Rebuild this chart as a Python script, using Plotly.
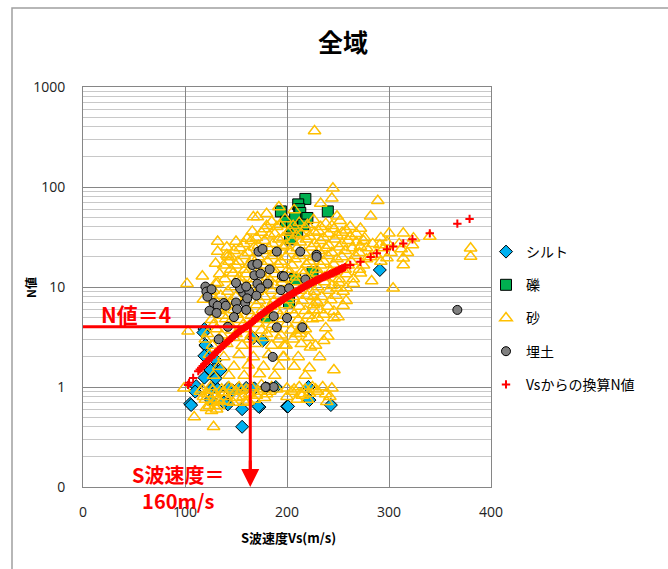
import plotly.graph_objects as go

# ---- data: S-wave velocity Vs (m/s) and SPT N value per soil type ----
silt_vs = [119, 118, 121, 120, 122, 119, 130, 129, 125, 135, 119, 130, 111, 110,
           127, 132, 142, 147, 152, 160, 168, 179, 189, 200, 221, 222, 243, 105,
           106, 142, 156, 156, 173, 172, 291, 167, 176, 138, 125, 201]
silt_n = [3.8, 3.5, 2.55, 2.63, 2.1, 2.05, 1.86, 1.5, 1.48, 1.48, 1.24, 1.22, 1.02, 0.90,
          0.97, 0.95, 0.97, 0.92, 0.96, 0.98, 0.97, 0.98, 1.0, 0.64, 1.0, 0.74, 0.66, 0.68,
          0.66, 0.67, 0.60, 0.40, 0.63, 0.64, 14.8, 3.1, 2.9, 0.70, 0.75, 0.64]

gravel_vs = [218, 211, 212, 240, 194, 213, 220, 199, 208, 205, 216, 210, 203, 208, 202, 225, 180]
gravel_n = [76, 67, 60, 57, 57, 55, 49, 45, 49, 40, 42, 36, 30, 12, 7, 14, 5]

sand_vs = [
    # upper outliers and edges
    227, 245, 244, 289, 233, 192, 207, 180, 171, 167, 249, 282, 262, 272, 300, 314,
    324, 340, 166, 161, 150, 132, 132, 142, 141, 380, 380, 314, 314, 130, 143, 117,
    102, 130, 103, 272, 291, 323, 304, 249, 226, 230, 226, 230, 246, 238, 223, 213,
    213, 197, 197, 207, 246, 244, 222, 200, 212, 239, 125, 118, 135,
    # dense body
    185, 198, 212, 226, 238, 252,
    180, 193, 206, 220, 233, 244,
    178, 190, 203, 218, 231, 246, 258,
    175, 188, 201, 214, 227, 241, 254, 268,
    170, 183, 196, 209, 222, 236, 249, 262, 276,
    165, 178, 192, 205, 219, 233, 247, 260, 275, 292,
    158, 172, 186, 199, 213, 227, 241, 254, 268, 284, 298, 310,
    141, 154, 168, 182, 196, 210, 224, 238, 251, 264, 278, 295, 312,
    148, 162, 176, 189, 203, 217, 231, 244, 257, 271, 287, 302, 318,
    145, 158, 172, 185, 199, 212, 226, 240, 254, 267, 282, 298,
    152, 166, 181, 194, 208, 222, 236, 249, 263, 278, 292,
    138, 150, 163, 177, 191, 205, 219, 233, 246, 260, 275,
    145, 159, 173, 187, 201, 215, 229, 243, 257, 271,
    134, 147, 160, 174, 188, 202, 216, 230, 244, 258, 272,
    139, 153, 167, 181, 195, 209, 223, 237, 251, 265, 283,
    132, 153, 167, 181, 195, 209, 223, 237, 251, 265,
    146, 160, 174, 188, 202, 216, 230, 244, 258,
    128, 142, 157, 171, 185, 199, 213, 227, 241, 255,
    135, 150, 164, 178, 192, 206, 220, 234, 248,
    130, 145, 159, 173, 187, 201, 215, 229, 243, 258,
    142, 156, 170, 184, 198, 212, 226, 240, 255,
    133, 148, 162, 176, 190, 204, 218, 232, 246,
    137, 151, 165, 179, 193, 207, 221, 236, 250,
    126, 140, 154, 168, 182, 196, 211, 225,
    128, 143, 157, 172, 186, 200, 215,
    131, 146, 160, 175, 189, 204, 218,
    122, 136, 150, 165, 180, 194, 209, 240,
    120, 134, 148, 163, 177, 192, 206, 221, 236,
    127, 141, 156, 170, 185, 199, 214, 228,
    124, 138, 153, 167, 182, 196, 211, 232,
    133, 148, 162, 177, 192, 222,
    128, 143, 158, 173, 188, 218,
    # low band
    99, 109, 128, 115, 120, 125, 128, 130, 133, 136, 140, 143, 147, 150, 153, 157,
    160, 165, 168, 172, 175, 180, 185, 190, 205, 210, 218, 225, 230, 235, 124, 131,
    118, 138, 162, 178, 215, 242,
    117, 122, 127, 132, 137, 142, 146, 151, 155, 159, 163, 170, 177, 183, 200, 207,
    213, 220, 228, 238, 121, 126, 134,
]
sand_n = [
    363, 97, 77, 73, 68.5, 63, 59, 54, 50, 50, 51, 51, 40, 38.5, 34.4, 34.4,
    30.8, 32, 36, 30.6, 28.5, 28.5, 22.6, 20.2, 21, 24.4, 20.2, 19.4, 16.6, 17.2, 18, 12.8,
    10.8, 10.8, 3.6, 25.4, 26.3, 26.3, 9.7, 9.7, 8.0, 6.9, 5.9, 4.9, 4.9, 3.9, 2.5, 3.4,
    3.7, 2.6, 2.0, 1.6, 1.48, 0.97, 0.86, 0.97, 1.0, 0.71, 9.0, 7.5, 6.0,
    45, 48, 44, 47, 43, 46,
    41, 42, 41, 42, 40, 41,
    38, 40, 37, 39, 36, 38, 37,
    35, 34, 35, 34, 35, 34, 35, 34,
    31, 33, 31, 33, 32, 31, 33, 32, 31,
    29, 29, 30, 29, 30, 29, 30, 29, 29, 31,
    27, 26, 27, 26, 28, 27, 26, 27, 28, 27, 28, 27,
    25, 24.5, 25, 24.5, 25, 24.5, 25, 24.5, 25, 24.5, 24.5, 24.5, 24,
    23, 22, 23, 22, 23, 22, 23, 22, 23, 22, 21, 22, 22,
    20, 20.5, 20, 20.5, 20, 20.5, 20, 20.5, 20, 20.5, 20, 19.5,
    18, 19, 18, 18, 19, 18, 18, 19, 18, 19, 18,
    16.5, 16.5, 16.8, 16.5, 16.8, 16.5, 16.8, 16.5, 16.8, 16.5, 16.5,
    15, 15, 14.5, 15, 15, 14.5, 15, 14.5, 15, 15,
    13.5, 13.7, 13.5, 13.7, 13.5, 13.7, 13.5, 13.7, 13.5, 13.5, 13.7,
    12, 12.5, 12, 12.5, 12, 12.5, 12, 12.5, 12, 12, 11.5,
    11, 11.2, 11, 11.2, 11, 11.2, 11, 11.2, 11, 10.8,
    10, 10.3, 10, 10.3, 10, 10.2, 10, 10.3, 9.8,
    9.2, 9, 9.2, 9, 9.2, 9, 9.2, 9, 9.2, 9,
    8.2, 8, 8.3, 8, 8.2, 8, 8.2, 8, 8.2,
    7.3, 7.2, 7.4, 7.3, 7.2, 7.4, 7.3, 7.2, 7.4, 7.3,
    6.6, 6.4, 6.6, 6.4, 6.6, 6.4, 6.6, 6.4, 6.5,
    5.8, 5.9, 5.8, 5.9, 5.8, 5.9, 5.8, 5.9, 5.7,
    5.2, 5.3, 5.2, 5.3, 5.2, 5.3, 5.2, 5.3, 5.0,
    4.7, 4.8, 4.7, 4.8, 4.7, 4.8, 4.7, 4.8,
    4.2, 4.3, 4.2, 4.3, 4.2, 4.3, 4.2,
    3.8, 3.7, 3.8, 3.7, 3.8, 3.7, 3.8,
    3.4, 3.3, 3.4, 3.3, 3.4, 3.3, 3.4, 3.2,
    3.0, 3.0, 3.1, 3.0, 3.1, 3.0, 3.0, 3.1, 2.9,
    2.6, 2.7, 2.6, 2.7, 2.6, 2.6, 2.7, 2.6,
    2.1, 2.0, 2.1, 2.0, 2.1, 2.0, 2.0, 2.0,
    1.6, 1.6, 1.65, 1.6, 1.6, 1.55,
    1.3, 1.3, 1.3, 1.35, 1.3, 1.3,
    0.97, 0.50, 0.40, 0.90, 0.75, 1.0, 0.70, 0.85, 0.65, 0.95, 0.80, 1.0, 0.70, 0.90, 1.0, 0.80,
    0.95, 1.0, 0.75, 0.90, 1.05, 0.85, 1.0, 0.95, 0.90, 0.75, 0.95, 1.0, 0.90, 1.0, 0.65, 0.60,
    0.80, 0.88, 0.72, 0.78, 0.82, 0.80,
    0.95, 0.85, 0.92, 0.75, 0.88, 0.72, 0.95, 0.78, 0.92, 0.70, 0.85, 0.82, 0.95, 0.90, 0.80, 0.95,
    0.85, 0.75, 0.95, 0.85, 0.62, 0.58, 0.72,
]

fill_vs = [120, 121, 122, 128, 124, 138, 150, 151, 148, 159, 157, 163, 154, 160, 166, 168,
           174, 171, 181, 172, 190, 213, 195, 218, 194, 200, 190, 215, 186, 133, 142, 180,
           187, 229, 176, 171, 174, 161, 187, 202, 197, 229, 367, 132, 140, 160, 170, 183,
           150, 126, 131, 179]
fill_n = [10.1, 9.0, 8.0, 6.9, 5.8, 6.9, 7.0, 6.0, 5.0, 6.9, 8.8, 9.0, 9.7, 10.1, 16.6, 13.1,
          13.6, 10.8, 10.8, 22.6, 22.6, 22.6, 12.9, 11.9, 9.3, 4.9, 3.95, 3.95, 2.0, 3.0, 4.0, 1.0,
          1.0, 21.0, 24.0, 17.0, 9.7, 7.7, 5.1, 9.7, 12.8, 20.0, 5.9, 6.5, 6.5, 5.9, 8.2, 15.0,
          11.0, 9.5, 5.5, 1.0]

conv_vs = [103, 104, 108, 113, 116, 119, 122, 125, 128, 131, 134, 137, 140, 143, 146, 149,
           152, 155, 158, 161, 164, 167, 170, 173, 176, 179, 182, 185, 188, 191, 194, 197,
           200, 203, 206, 209, 212, 215, 218, 221, 224, 227, 230, 233, 236, 239, 242, 245,
           248, 251, 254, 257, 262, 272, 282, 288, 298, 304, 314, 323, 340, 367, 379,
           114.5, 117.5, 120.5, 123.5, 126.5, 129.5, 132.5, 135.5, 138.5, 141.5, 144.5, 147.5,
           150.5, 153.5, 156.5, 159.5, 162.5, 165.5, 168.5, 171.5, 174.5, 177.5, 180.5, 183.5,
           186.5, 189.5, 192.5, 195.5, 198.5, 201.5, 204.5, 207.5, 210.5, 213.5, 216.5, 219.5,
           222.5, 225.5, 228.5, 231.5, 234.5, 237.5, 240.5, 243.5, 246.5, 249.5, 252.5, 255.5]
conv_n = [1.05, 1.10, 1.23, 1.44, 1.56, 1.69, 1.82, 1.95, 2.10, 2.25, 2.41, 2.57, 2.74, 2.92, 3.11, 3.31,
          3.51, 3.72, 3.90, 4.08, 4.28, 4.55, 4.85, 5.12, 5.40, 5.70, 6.00, 6.30, 6.62, 6.95, 7.28, 7.62,
          7.95, 8.30, 8.65, 9.00, 9.40, 9.80, 10.2, 10.6, 11.0, 11.4, 11.8, 12.2, 12.6, 13.0, 13.4, 13.8,
          14.3, 14.8, 15.3, 15.8, 16.6, 17.9, 20.0, 21.7, 23.8, 25.4, 27.3, 30.0, 34.4, 43.0, 48.0,
          1.50, 1.62, 1.75, 1.88, 2.02, 2.17, 2.33, 2.49, 2.65, 2.83, 3.01, 3.21,
          3.41, 3.61, 3.81, 3.99, 4.18, 4.41, 4.70, 4.98, 5.26, 5.55, 5.85, 6.15,
          6.46, 6.78, 7.11, 7.45, 7.78, 8.12, 8.47, 8.82, 9.20, 9.60, 10.0, 10.4,
          10.8, 11.2, 11.6, 12.0, 12.4, 12.8, 13.2, 13.6, 14.05, 14.55, 15.05, 15.55]

# guide values
guide_n = 4
guide_vs = 164

JP = "Noto Sans CJK JP"
RED = "#FF0000"

fig = go.Figure()

fig.add_trace(go.Scatter(
    x=silt_vs, y=silt_n, mode="markers", name="シルト", legendgroup="a",
    marker=dict(symbol="diamond", size=10, color="#00B0F0", line=dict(color="black", width=1))))
fig.add_trace(go.Scatter(
    x=gravel_vs, y=gravel_n, mode="markers", name="礫", legendgroup="b",
    marker=dict(symbol="square", size=11, color="#00B050", line=dict(color="black", width=1))))
fig.add_trace(go.Scatter(
    x=sand_vs, y=sand_n, mode="markers", name="砂", legendgroup="c",
    marker=dict(symbol="triangle-up-open", size=11, color="#FFC000", line=dict(color="#FFC000", width=1.5))))
fig.add_trace(go.Scatter(
    x=fill_vs, y=fill_n, mode="markers", name="埋土", legendgroup="d",
    marker=dict(symbol="circle", size=9, color="#808080", line=dict(color="black", width=1))))
fig.add_trace(go.Scatter(
    x=conv_vs, y=conv_n, mode="markers", name="Vsからの換算N値", legendgroup="e",
    marker=dict(symbol="cross-thin", size=6, color=RED, line=dict(color=RED, width=2))))

# red guide lines: N = 4 across, then down to the Vs axis
fig.add_trace(go.Scatter(x=[0, guide_vs], y=[guide_n, guide_n], mode="lines",
                         line=dict(color=RED, width=3), showlegend=False, hoverinfo="skip"))
fig.add_trace(go.Scatter(x=[guide_vs, guide_vs], y=[guide_n, 0.12], mode="lines",
                         line=dict(color=RED, width=3), showlegend=False, hoverinfo="skip"))

minor_vals = [m * 10 ** e for e in range(-1, 3) for m in range(2, 10)]

fig.update_layout(
    width=668, height=569,
    margin=dict(l=83, r=177, t=87, b=82),
    paper_bgcolor="white", plot_bgcolor="white",
    font=dict(family=JP, color="black"),
    title=dict(text="<b>全域</b>", x=343 / 668, xanchor="center", y=1 - 43 / 569, yanchor="middle",
               font=dict(size=25, family=JP, color="black")),
    xaxis=dict(range=[0, 400], tickvals=[0, 100, 200, 300, 400], showgrid=True, gridcolor="#868686",
               gridwidth=1, showline=True, linecolor="#868686", linewidth=1, mirror=True, zeroline=False,
               ticks="outside", ticklen=12, tickcolor="rgba(0,0,0,0)",
               tickfont=dict(size=14, family="Open Sans", color="#222")),
    yaxis=dict(type="log", range=[-1, 3], tickvals=[0.1, 1, 10, 100, 1000],
               ticktext=["0", "1", "10", "100", "1000"], showgrid=True, gridcolor="#868686", gridwidth=1,
               showline=True, linecolor="#868686", linewidth=1, mirror=True, zeroline=False,
               ticks="outside", ticklen=14, tickcolor="rgba(0,0,0,0)",
               tickfont=dict(size=14, family="Open Sans", color="#222"),
               minor=dict(tickvals=minor_vals, showgrid=True, gridcolor="#C8C8C8", gridwidth=1, ticks="")),
    legend=dict(x=(486 - 83) / 408, xanchor="left", y=(487 - 318) / 400, yanchor="middle",
                bgcolor="rgba(0,0,0,0)", font=dict(size=14, family=JP, color="black"),
                tracegroupgap=12, traceorder="grouped"),
    showlegend=True,
)

# outer chart frame
fig.add_shape(type="rect", xref="paper", yref="paper",
              x0=(12 - 83) / 408, x1=(700 - 83) / 408, y0=(487 - 600) / 400, y1=(487 - 8) / 400,
              line=dict(color="#A0A0A0", width=1.5), fillcolor="rgba(0,0,0,0)", layer="below")

# arrowhead at the foot of the vertical guide
fig.add_annotation(x=guide_vs, y=-1, xref="x", yref="y", ax=0, ay=-28, text="",
                   showarrow=True, arrowhead=2, arrowsize=1.2, arrowwidth=3, arrowcolor=RED, standoff=0)

fig.add_annotation(x=52, y=0.73, xref="x", yref="y", text="<b>N値＝4</b>", showarrow=False,
                   font=dict(size=21, family=JP, color=RED))
fig.add_annotation(x=93, y=-1.0, xref="x", yref="y", text="<b>S波速度＝<br>160m/s</b>", showarrow=False,
                   font=dict(size=20, family=JP, color=RED), yanchor="middle")

# axis titles
fig.add_annotation(x=(288 - 83) / 408, y=(487 - 537) / 400, xref="paper", yref="paper",
                   xanchor="center", yanchor="middle",
                   text="<b>S波速度Vs(m/s)</b>", showarrow=False, font=dict(size=13, family=JP, color="black"))
fig.add_annotation(x=(30 - 83) / 408, y=0.5, xref="paper", yref="paper", text="<b>N値</b>",
                   xanchor="center", yanchor="middle",
                   textangle=-90, showarrow=False, font=dict(size=12, family=JP, color="black"))

fig.write_html("out.html")
